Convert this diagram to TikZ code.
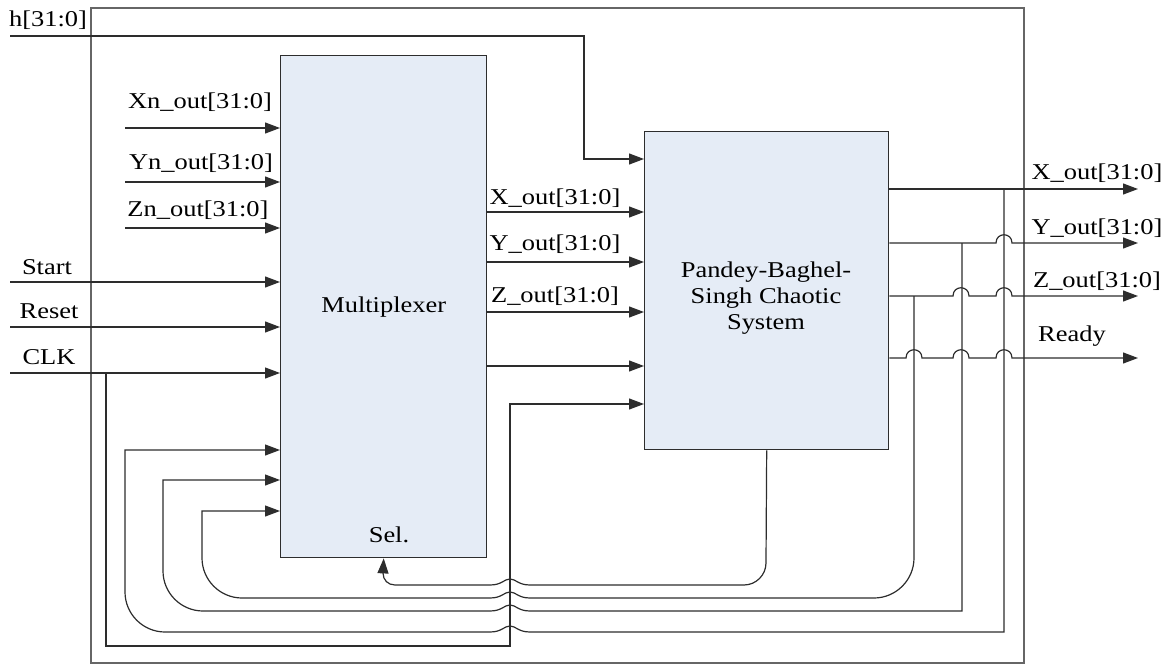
\documentclass[tikz,border=0pt]{standalone}
\usepackage{fontspec}
\setmainfont{Liberation Serif}[FakeStretch=1.17]
\usetikzlibrary{arrows.meta}
\definecolor{blockfill}{RGB}{229,236,246}
\definecolor{wirecol}{RGB}{45,45,45}

\begin{document}
\begin{tikzpicture}[x=0.5pt,y=-0.5pt,
    block/.style={draw=wirecol,line width=0.7pt,fill=blockfill,inner sep=0pt,anchor=north west},
    wire/.style={draw=wirecol,line width=0.6pt},
    sig/.style={wire,-{Triangle[length=7.5pt,width=5.5pt]}},
    lbl/.style={inner sep=0pt,font=\fontsize{11.3}{13}\selectfont}]
  \useasboundingbox (0,0) rectangle (1169,664);
  % frame
  \draw[draw=black!60,line width=0.6pt] (91,8) rectangle (1024,663);
  % blocks
  \node[block,minimum width=103pt,minimum height=251pt,font=\fontsize{11.3}{13}\selectfont] (mux) at (280,55) {Multiplexer};
  \node[block,minimum width=122pt,minimum height=159pt] (cs) at (644,131) {};
  \node[lbl,align=center] (cstext) at (766,298) {Pandey-Baghel-\\Singh Chaotic\\System};
  \node[lbl] (sel) at (389,535) {Sel.};
  % labels
  \node[lbl] (hlbl) at (48,20) {h[31:0]};
  \node[lbl] (xnlbl) at (200,102) {Xn\_out[31:0]};
  \node[lbl] (ynlbl) at (201,163) {Yn\_out[31:0]};
  \node[lbl] (znlbl) at (198,210) {Zn\_out[31:0]};
  \node[lbl] (startlbl) at (47,267) {Start};
  \node[lbl] (resetlbl) at (49,311) {Reset};
  \node[lbl] (clklbl) at (49,357) {CLK};
  \node[lbl] (xlbl) at (555,198) {X\_out[31:0]};
  \node[lbl] (ylbl) at (555,244) {Y\_out[31:0]};
  \node[lbl] (zlbl) at (555,296) {Z\_out[31:0]};
  \node[lbl] (xolbl) at (1097,173) {X\_out[31:0]};
  \node[lbl] (yolbl) at (1097,228) {Y\_out[31:0]};
  \node[lbl] (zolbl) at (1097,281) {Z\_out[31:0]};
  \node[lbl] (rdylbl) at (1072,336) {Ready};
  % wire ends
  \coordinate (hin) at (10,36);
  \coordinate (xnin) at (125,128);
  \coordinate (ynin) at (125,182);
  \coordinate (znin) at (125,228);
  \coordinate (startin) at (10,282);
  \coordinate (resetin) at (10,327);
  \coordinate (clkin) at (10,373);
  \coordinate (clktap) at (106,373);
  \coordinate (xtap) at (1004,189);
  \coordinate (ytap) at (962,243);
  \coordinate (ztap) at (914,296);
  \coordinate (xout) at (1138,189);
  \coordinate (yout) at (1138,243);
  \coordinate (zout) at (1138,296);
  \coordinate (rdyout) at (1138,358);
  \begin{scope}[sig]
    \draw (hin) -| (584,159) -- (cs.west |- 0,159);
    \draw (xnin) -- (mux.west |- xnin);
    \draw (ynin) -- (mux.west |- ynin);
    \draw (znin) -- (mux.west |- znin);
    \draw (startin) -- (mux.west |- startin);
    \draw (resetin) -- (mux.west |- resetin);
    \draw (clkin) -- (mux.west |- clkin);
    \draw (mux.east |- 0,212) -- (cs.west |- 0,212);
    \draw (mux.east |- 0,262) -- (cs.west |- 0,262);
    \draw (mux.east |- 0,312) -- (cs.west |- 0,312);
    \draw (mux.east |- 0,366) -- (cs.west |- 0,366);
    \draw (clktap) |- (510,646) -- (510,404) -- (cs.west |- 0,404);
    % outputs
    \draw (cs.east |- xout) -- (xout);
    \draw (cs.east |- yout) -- (996,243) .. controls (996,232) and (1012,232) .. (1012,243) -- (yout);
    \draw (cs.east |- zout) -- (953,296) .. controls (953,285) and (969,285) .. (969,296)
      -- (996,296) .. controls (996,285) and (1012,285) .. (1012,296) -- (zout);
    \draw (cs.east |- rdyout) -- (906,358) .. controls (906,347) and (922,347) .. (922,358)
      -- (953,358) .. controls (953,347) and (969,347) .. (969,358)
      -- (996,358) .. controls (996,347) and (1012,347) .. (1012,358) -- (rdyout);
    % feedback
    \draw (cs.south) -- (766,563) .. controls (766,575) and (756,585) .. (744,585)
      -- (530,585) .. controls (518,585) and (516,579) .. (510,579) .. controls (504,579) and (502,585) .. (490,585)
      -- (395,585) .. controls (388,585) and (383,580) .. (383,573) -- (mux.south);
    \draw (ztap) -- (914,558) .. controls (914,580) and (896,598) .. (874,598)
      -- (530,598) .. controls (518,598) and (516,592) .. (510,592) .. controls (504,592) and (502,598) .. (490,598)
      -- (242,598) .. controls (220,598) and (202,580) .. (202,558) -- (202,511) -- (mux.west |- 0,511);
    \draw (ytap) -- (962,611)
      -- (530,611) .. controls (518,611) and (516,605) .. (510,605) .. controls (504,605) and (502,611) .. (490,611)
      -- (203,611) .. controls (181,611) and (163,593) .. (163,571) -- (163,480) -- (mux.west |- 0,480);
    \draw (xtap) -- (1004,632)
      -- (530,632) .. controls (518,632) and (516,626) .. (510,626) .. controls (504,626) and (502,632) .. (490,632)
      -- (165,632) .. controls (143,632) and (125,614) .. (125,592) -- (125,450) -- (mux.west |- 0,450);
  \end{scope}
\end{tikzpicture}
\end{document}
